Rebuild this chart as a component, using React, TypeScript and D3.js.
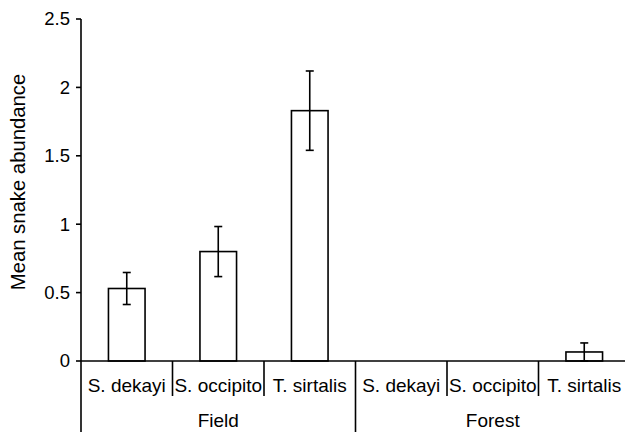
import React from "react";
import * as d3 from "d3";

const groups = ["Field", "Forest"];
const species = ["S. dekayi", "S. occipito", "T. sirtalis"];
const fieldMeans = [0.53, 0.8, 1.83];
const fieldErrors = [0.117, 0.183, 0.29];
const forestMeans = [0, 0, 0.066];
const forestErrors = [0, 0, 0.066];
const yTicks = [0, 0.5, 1, 1.5, 2, 2.5];

const width = 625;
const height = 432;
const margin = { top: 19, left: 81, bottom: 71 };
const plotRight = 630;

function App() {
  const rows = groups.flatMap((g, gi) =>
    species.map((s, si) => ({
      group: g,
      species: s,
      key: g + "|" + s,
      value: gi === 0 ? fieldMeans[si] : forestMeans[si],
      err: gi === 0 ? fieldErrors[si] : forestErrors[si],
    }))
  );

  const x = d3
    .scaleBand()
    .domain(rows.map((d) => d.key))
    .range([margin.left, plotRight])
    .paddingInner(0)
    .paddingOuter(0);

  const y = d3
    .scaleLinear()
    .domain([0, 2.5])
    .range([height - margin.bottom, margin.top]);

  const y0 = y(0);
  const bw = x.bandwidth();
  const barW = bw * 0.4;
  const font = "'Liberation Sans', Arial, sans-serif";
  const fs = 19;

  return (
    <svg
      width={width}
      height={height}
      style={{ position: "absolute", left: 0, top: 0, background: "#fff" }}
      fontFamily={font}
    >
      {/* bars */}
      {rows.map((d) => {
        const cx = (x(d.key) as number) + bw / 2;
        return (
          <g key={d.key}>
            {d.value > 0 && (
              <rect
                x={cx - barW / 2}
                y={y(d.value)}
                width={barW}
                height={y0 - y(d.value)}
                fill="#fff"
                stroke="#000"
                strokeWidth={1.6}
              />
            )}
            {d.err > 0 && (
              <g stroke="#000" strokeWidth={1.6}>
                <line x1={cx} x2={cx} y1={y(d.value - d.err)} y2={y(d.value + d.err)} />
                <line x1={cx - 4} x2={cx + 4} y1={y(d.value + d.err)} y2={y(d.value + d.err)} />
                <line x1={cx - 4} x2={cx + 4} y1={y(d.value - d.err)} y2={y(d.value - d.err)} />
              </g>
            )}
          </g>
        );
      })}

      {/* y axis */}
      <line x1={margin.left} x2={margin.left} y1={y(2.5)} y2={height} stroke="#000" strokeWidth={1.6} />
      {yTicks.map((t) => (
        <g key={t}>
          <line x1={margin.left - 5} x2={margin.left} y1={y(t)} y2={y(t)} stroke="#000" strokeWidth={1.6} />
          <text x={margin.left - 11} y={y(t)} dy="0.35em" textAnchor="end" fontSize={18.5} fill="#000">
            {t}
          </text>
        </g>
      ))}
      <text
        transform={`translate(18,182) rotate(-90)`}
        textAnchor="middle"
        dy="0.35em"
        fontSize={20.3}
        fill="#000"
      >
        Mean snake abundance
      </text>

      {/* x axis */}
      <line x1={margin.left} x2={plotRight} y1={y0} y2={y0} stroke="#000" strokeWidth={1.6} />
      {rows.map((d, i) => {
        const left = x(d.key) as number;
        return (
          <g key={"lab" + d.key}>
            {i % species.length !== 0 && (
              <line x1={left} x2={left} y1={y0} y2={y0 + 35} stroke="#000" strokeWidth={1.6} />
            )}
            <text x={left + bw / 2} y={385} dy="0.35em" textAnchor="middle" fontSize={fs} fill="#000">
              {d.species}
            </text>
          </g>
        );
      })}
      {groups.map((g) => {
        const first = x(g + "|" + species[0]) as number;
        const last = (x(g + "|" + species[species.length - 1]) as number) + bw;
        return (
          <g key={g}>
            <line x1={last} x2={last} y1={y0} y2={height} stroke="#000" strokeWidth={1.6} />
            <text x={(first + last) / 2} y={420} dy="0.35em" textAnchor="middle" fontSize={fs} fill="#000">
              {g}
            </text>
          </g>
        );
      })}
    </svg>
  );
}

export default App;
